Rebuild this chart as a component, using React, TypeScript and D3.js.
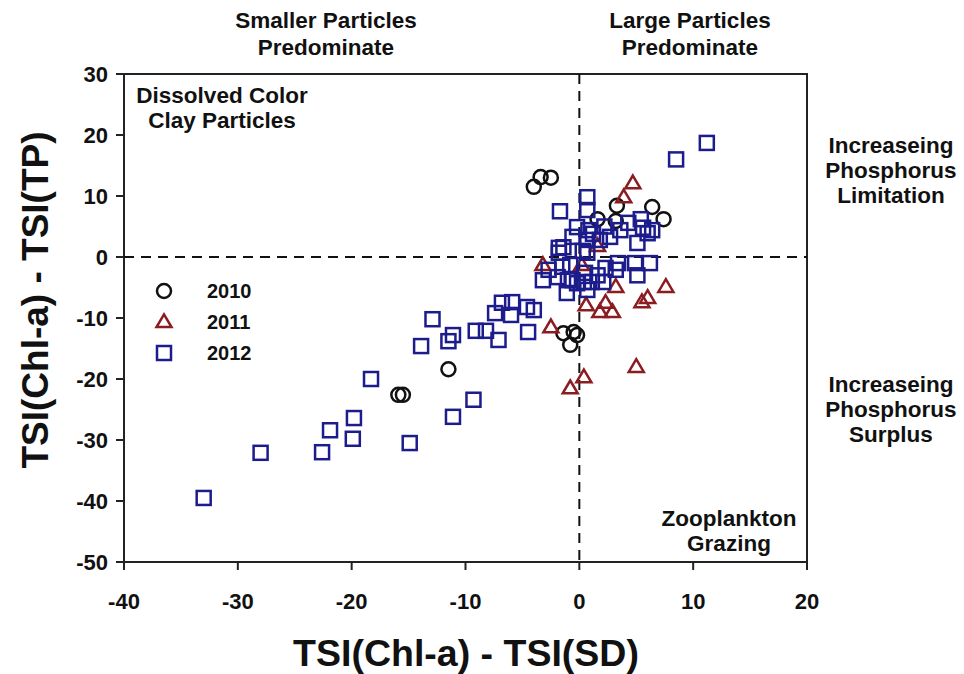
import React from "react";
import * as d3 from "d3";

const xTicks = [-40, -30, -20, -10, 0, 10, 20];
const yTicks = [30, 20, 10, 0, -10, -20, -30, -40, -50];
const legendYears = ["2010", "2011", "2012"];

const data2010: [number, number][] = [
  [-4.0, 11.5], [-3.4, 13.1], [-2.5, 13.0], [1.6, 6.2], [3.2, 5.9], [3.3, 8.4],
  [6.4, 8.2], [7.4, 6.2], [-11.5, -18.4], [-15.9, -22.6], [-15.5, -22.6],
  [-1.4, -12.5], [-0.5, -12.3], [-0.8, -14.4], [-0.2, -12.8],
];

const data2011: [number, number][] = [
  [4.7, 12.1], [3.9, 9.8], [-3.2, -1.3], [0.2, -1.3], [3.2, -4.9], [7.6, -4.9],
  [0.6, -7.9], [2.3, -7.5], [1.8, -9.0], [2.9, -9.0], [5.5, -7.4], [6.0, -6.7],
  [5.0, -18.0], [0.4, -19.7], [-0.8, -21.5], [-2.5, -11.5], [1.6, 1.8],
];

const data2012: [number, number][] = [
  [11.2, 18.7], [8.5, 16.0], [0.7, 9.8], [0.7, 7.7], [-1.7, 7.5], [-0.2, 4.9],
  [0.8, 4.4], [2.7, 3.3], [4.3, 5.6], [5.4, 6.2], [6.4, 4.4], [5.1, 2.3],
  [3.6, 4.4], [-0.6, 3.3], [-1.4, 1.6], [-1.8, 1.5], [0.7, 2.8], [1.8, 2.8],
  [5.6, 4.8], [6.0, 3.9], [2.2, 5.0], [0.3, 1.0], [1.2, 3.8],
  [-1.8, 0.7], [0.7, 0.7], [-2.7, -2.1], [-3.2, -3.8], [-1.9, -3.3], [-1.5, -1.6],
  [-0.8, -1.3], [-0.6, -3.8], [-1.1, -5.9], [0.4, -4.1], [0.7, -5.4], [1.1, -4.1],
  [0.5, -2.6], [1.6, -3.0], [2.1, -4.1], [2.3, -1.8], [3.2, -2.1], [3.4, -1.0],
  [4.9, -1.0], [5.1, -3.0], [6.2, -1.0], [-1.0, -3.8], [-0.2, -4.3],
  [-4.6, -8.2], [-4.0, -8.7], [-4.5, -12.3], [-7.4, -9.2], [-6.8, -7.5],
  [-5.9, -7.4], [-6.0, -9.5], [-7.1, -13.6], [-9.1, -12.1], [-8.2, -12.1],
  [-11.5, -13.8], [-11.1, -12.8], [-12.9, -10.2], [-13.9, -14.6], [-9.3, -23.4],
  [-11.1, -26.2], [-14.9, -30.5], [-18.3, -20.0], [-19.8, -26.4], [-19.9, -29.8],
  [-21.9, -28.4], [-22.6, -32.0], [-28.0, -32.1], [-33.0, -39.5],
];

const FONT = "'Liberation Sans', Arial, sans-serif";
const C2010 = "#111111";
const C2011 = "#8a1c22";
const C2012 = "#1c1c8c";

const x = d3.scaleLinear().domain([-40, 20]).range([124, 807]);
const y = d3.scaleLinear().domain([-50, 30]).range([562, 74]);

const triPath = (cx: number, cy: number, s: number) => {
  const h = s * 0.85;
  return `M${cx},${cy - h * 0.6}L${cx + s / 2},${cy + h * 0.4}L${cx - s / 2},${cy + h * 0.4}Z`;
};

const Circle = ({ cx, cy }: { cx: number; cy: number }) => (
  <circle cx={cx} cy={cy} r={7} fill="none" stroke={C2010} strokeWidth={2.5} />
);
const Tri = ({ cx, cy }: { cx: number; cy: number }) => (
  <path d={triPath(cx, cy, 15)} fill="none" stroke={C2011} strokeWidth={2.5} strokeLinejoin="miter" />
);
const Sq = ({ cx, cy }: { cx: number; cy: number }) => (
  <rect x={cx - 7} y={cy - 7} width={14} height={14} fill="none" stroke={C2012} strokeWidth={2.5} />
);

const Lines = ({ lines, cx, y0, dy }: { lines: string[]; cx: number; y0: number; dy: number }) => (
  <g>
    {lines.map((l, i) => (
      <text key={i} x={cx} y={y0 + i * dy} textAnchor="middle" fontFamily={FONT} fontWeight="bold" fontSize={22.5} fill="#111">
        {l}
      </text>
    ))}
  </g>
);

export default function App() {
  const [x0, x1] = x.range();
  const [y0, y1] = y.range();
  return (
    <svg width={964} height={674} style={{ position: "absolute", left: 0, top: 0, background: "#fff" }}>
      <rect width={964} height={674} fill="#fff" />
      <rect x={x0} y={y1} width={x1 - x0} height={y0 - y1} fill="none" stroke="#222" strokeWidth={2} />
      <line x1={x(0)} x2={x(0)} y1={y1} y2={y0} stroke="#111" strokeWidth={2} strokeDasharray="10,7" />
      <line x1={x0} x2={x1} y1={y(0)} y2={y(0)} stroke="#111" strokeWidth={2} strokeDasharray="10,7" />
      {xTicks.map((t) => (
        <g key={"xt" + t}>
          <line x1={x(t)} x2={x(t)} y1={y0} y2={y0 + 8} stroke="#222" strokeWidth={2} />
          <text x={x(t)} y={y0 + 47} textAnchor="middle" fontFamily={FONT} fontWeight="bold" fontSize={22} fill="#111">
            {t}
          </text>
        </g>
      ))}
      {yTicks.map((t) => (
        <g key={"yt" + t}>
          <line x1={x0 - 8} x2={x0} y1={y(t)} y2={y(t)} stroke="#222" strokeWidth={2} />
          <text x={x0 - 16} y={y(t)} dy="0.36em" textAnchor="end" fontFamily={FONT} fontWeight="bold" fontSize={22} fill="#111">
            {t}
          </text>
        </g>
      ))}
      <text x={466} y={666} textAnchor="middle" fontFamily={FONT} fontWeight="bold" fontSize={37.5} fill="#111">
        TSI(Chl-a) - TSI(SD)
      </text>
      <text transform={`translate(48,${300}) rotate(-90)`} textAnchor="middle" fontFamily={FONT} fontWeight="bold" fontSize={37} fill="#111">
        TSI(Chl-a) - TSI(TP)
      </text>
      <Lines lines={["Smaller Particles", "Predominate"]} cx={326} y0={28} dy={27} />
      <Lines lines={["Large Particles", "Predominate"]} cx={690} y0={28} dy={27} />
      <Lines lines={["Dissolved Color", "Clay Particles"]} cx={222} y0={103} dy={25} />
      <Lines lines={["Increaseing", "Phosphorus", "Limitation"]} cx={891} y0={153} dy={25} />
      <Lines lines={["Increaseing", "Phosphorus", "Surplus"]} cx={891} y0={392} dy={25} />
      <Lines lines={["Zooplankton", "Grazing"]} cx={729} y0={526} dy={25} />
      {data2010.map((d, i) => <Circle key={"c" + i} cx={x(d[0])} cy={y(d[1])} />)}
      {data2011.map((d, i) => <Tri key={"t" + i} cx={x(d[0])} cy={y(d[1])} />)}
      {data2012.map((d, i) => <Sq key={"s" + i} cx={x(d[0])} cy={y(d[1])} />)}
      {legendYears.map((yr, i) => {
        const ly = 291 + i * 31;
        return (
          <g key={yr}>
            {i === 0 && <Circle cx={164} cy={ly} />}
            {i === 1 && <Tri cx={164} cy={ly} />}
            {i === 2 && <Sq cx={164} cy={ly} />}
            <text x={207} y={ly} dy="0.36em" fontFamily={FONT} fontWeight="bold" fontSize={20} fill="#111">
              {yr}
            </text>
          </g>
        );
      })}
    </svg>
  );
}
